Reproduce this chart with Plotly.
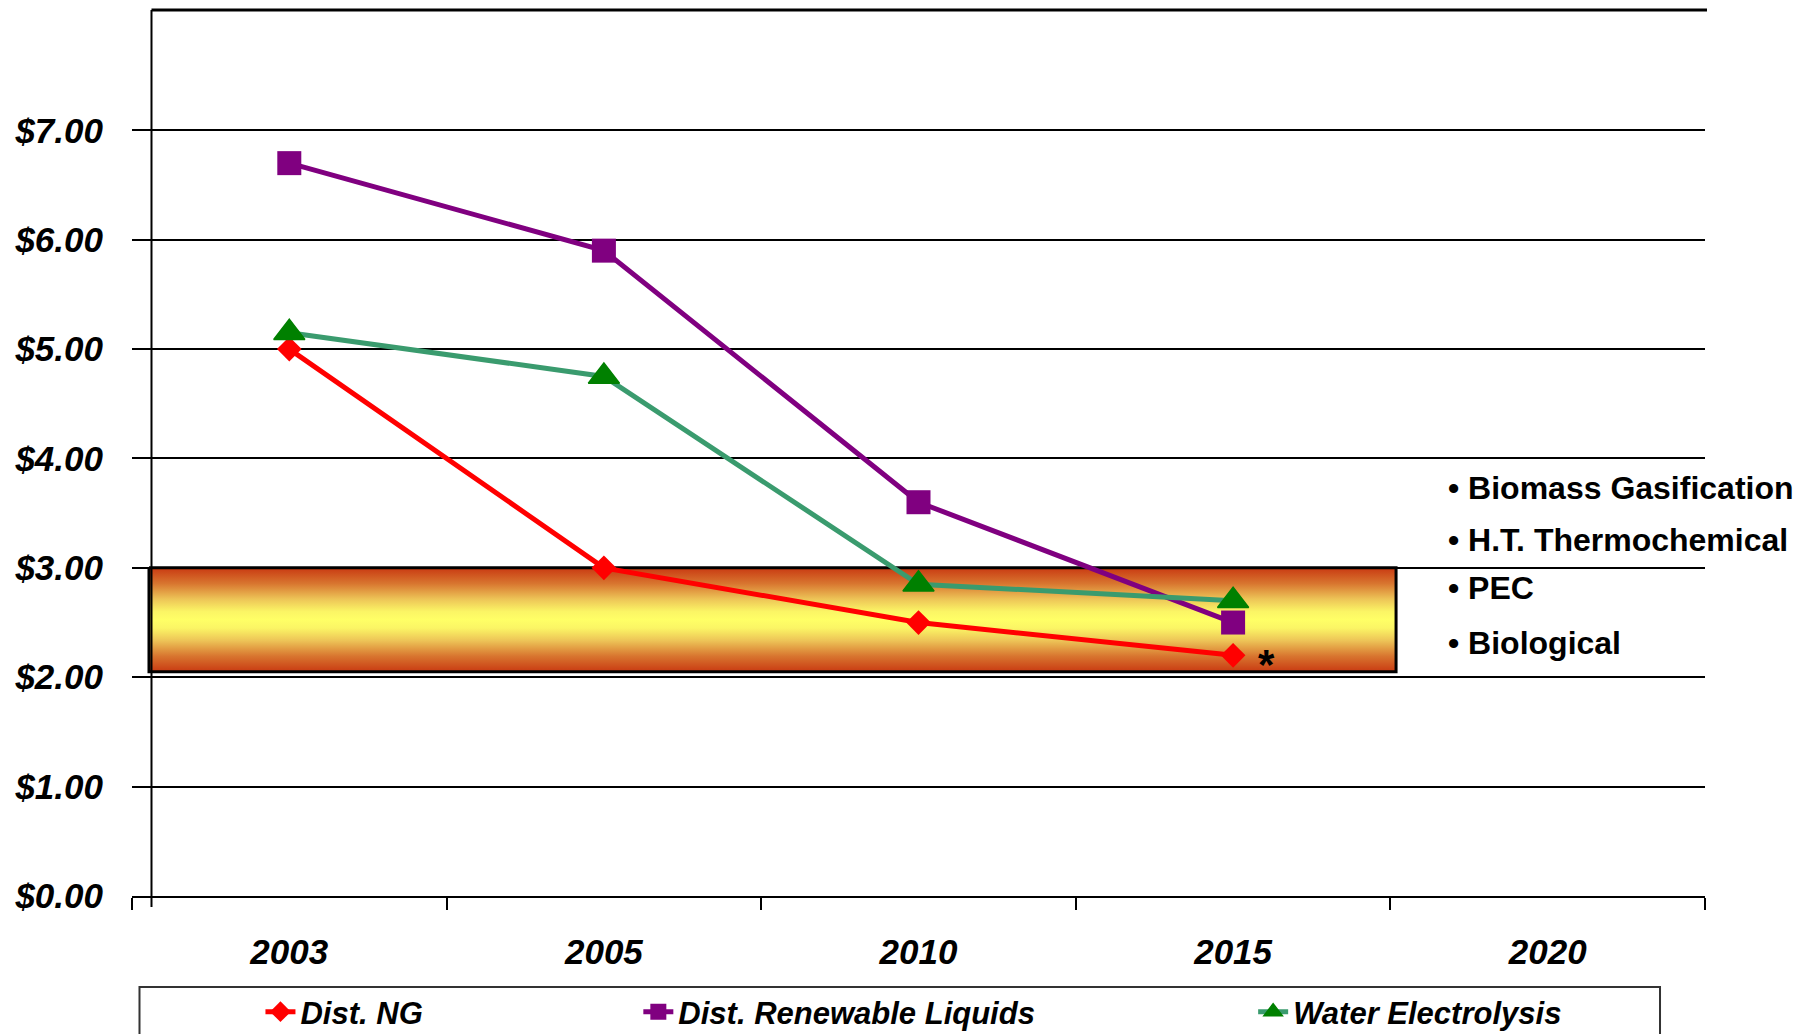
import plotly.graph_objects as go

# ---- data -------------------------------------------------------------
years = ["2003", "2005", "2010", "2015", "2020"]
year_index = [0, 1, 2, 3]           # positions of the years that have estimates

dist_ng = [5.00, 3.00, 2.50, 2.20]
dist_renewable_liquids = [6.70, 5.90, 3.60, 2.50]
water_electrolysis = [5.15, 4.75, 2.85, 2.70]

y_tick_values = [0, 1, 2, 3, 4, 5, 6, 7]
y_tick_labels = ["$0.00", "$1.00", "$2.00", "$3.00", "$4.00", "$5.00", "$6.00", "$7.00"]

target_high = 3.00
target_low = 2.05

other_pathways = ["Biomass Gasification", "H.T. Thermochemical", "PEC", "Biological"]

# ---- layout geometry ---------------------------------------------------
W, H = 1809, 1034
M_L, M_R, M_T, M_B = 131.5, 104, 10, 138
PW = W - M_L - M_R
PH = H - M_T - M_B
Y_MAX = 8.1


def px_x(px):
    return (px - M_L) / PW


def px_y(py):
    return (H - M_B - py) / PH


FONT = "Arial, Liberation Sans, sans-serif"

fig = go.Figure()

# target band ($/kg) with a vertical orange-yellow-orange gradient
band_x0, band_x1 = -0.446, 3.518
fig.add_trace(go.Scatter(
    x=[band_x0, band_x1, band_x1, band_x0, band_x0],
    y=[target_high, target_high, target_low, target_low, target_high],
    mode="lines",
    fill="toself",
    fillgradient=dict(
        type="vertical",
        colorscale=[
            [0.0, "#C93A12"], [0.15, "#D8752F"], [0.3, "#EDC457"],
            [0.42, "#FBF565"], [0.5, "#FFFF66"], [0.58, "#FBF565"],
            [0.7, "#EDC457"], [0.85, "#D8752F"], [1.0, "#C93A12"],
        ],
    ),
    line=dict(color="black", width=3),
    showlegend=False,
    hoverinfo="skip",
))

fig.add_trace(go.Scatter(
    x=year_index, y=dist_ng, name="Dist. NG",
    mode="lines+markers",
    line=dict(color="#FF0000", width=5),
    marker=dict(symbol="diamond", size=19, color="#FF0000"),
    legend="legend",
))
fig.add_trace(go.Scatter(
    x=year_index, y=dist_renewable_liquids, name="Dist. Renewable Liquids",
    mode="lines+markers",
    line=dict(color="#800080", width=5),
    marker=dict(symbol="square", size=24, color="#800080"),
    legend="legend2",
))
fig.add_trace(go.Scatter(
    x=year_index, y=water_electrolysis, name="Water Electrolysis",
    mode="lines+markers",
    line=dict(color="#3A9B6E", width=5),
    marker=dict(symbol="triangle-up", size=27, color="#008000",
                line=dict(color="#008000", width=1.5)),
    legend="legend3",
))

legend_common = dict(
    orientation="h", yanchor="middle", xanchor="left",
    font=dict(family=FONT, size=31, color="black", style="italic", weight="bold"),
    bgcolor="rgba(0,0,0,0)", borderwidth=0, itemclick=False, itemdoubleclick=False,
)

shapes = [
    # y axis line
    dict(type="line", xref="paper", yref="paper",
         x0=px_x(151), x1=px_x(151), y0=px_y(10), y1=px_y(907),
         line=dict(color="black", width=2)),
    # top frame line
    dict(type="line", xref="paper", yref="paper",
         x0=px_x(151), x1=px_x(1707), y0=1, y1=1,
         line=dict(color="black", width=3)),
    # legend box
    dict(type="rect", xref="paper", yref="paper",
         x0=px_x(139), x1=px_x(1660), y0=px_y(1040), y1=px_y(987),
         line=dict(color="#333333", width=2), fillcolor="rgba(0,0,0,0)"),
]

annotations = []
pathway_rows = [488, 540, 588, 643]
for name, py in zip(other_pathways, pathway_rows):
    annotations.append(dict(
        xref="paper", yref="paper", x=px_x(1446), y=px_y(py),
        xanchor="left", yanchor="middle", showarrow=False,
        text="\u2022 " + name,
        font=dict(family=FONT, size=32, color="black", weight="bold"),
    ))
annotations.append(dict(
    xref="paper", yref="paper", x=px_x(1266), y=px_y(664),
    xanchor="center", yanchor="middle", showarrow=False,
    text="*", font=dict(family=FONT, size=42, color="black", weight="bold"),
))

fig.update_layout(
    width=W, height=H,
    margin=dict(l=M_L, r=M_R, t=M_T, b=M_B, autoexpand=False),
    paper_bgcolor="white", plot_bgcolor="white",
    hovermode=False,
    xaxis=dict(
        range=[-0.5, 4.5], showgrid=False, zeroline=False,
        tickmode="array", tickvals=list(range(len(years))), ticktext=years,
        ticks="", ticklabelstandoff=24,
        tickfont=dict(family=FONT, size=35, color="black", style="italic", weight="bold"),
        showline=True, linecolor="black", linewidth=2,
        minor=dict(tickmode="array", tickvals=[i - 0.5 for i in range(len(years) + 1)],
                   ticks="outside", ticklen=12, tickwidth=2, tickcolor="black",
                   showgrid=False),
    ),
    yaxis=dict(
        range=[0, Y_MAX], zeroline=False, showline=False,
        tickmode="array", tickvals=y_tick_values, ticktext=y_tick_labels,
        ticks="", ticklabelstandoff=28,
        showgrid=True, gridcolor="black", gridwidth=2,
        tickfont=dict(family=FONT, size=35, color="black", style="italic", weight="bold"),
    ),
    legend=dict(x=px_x(260), y=px_y(1012), **legend_common),
    legend2=dict(x=px_x(638), y=px_y(1012), **legend_common),
    legend3=dict(x=px_x(1253), y=px_y(1012), **legend_common),
    shapes=shapes,
    annotations=annotations,
)

fig.write_html("out.html")
